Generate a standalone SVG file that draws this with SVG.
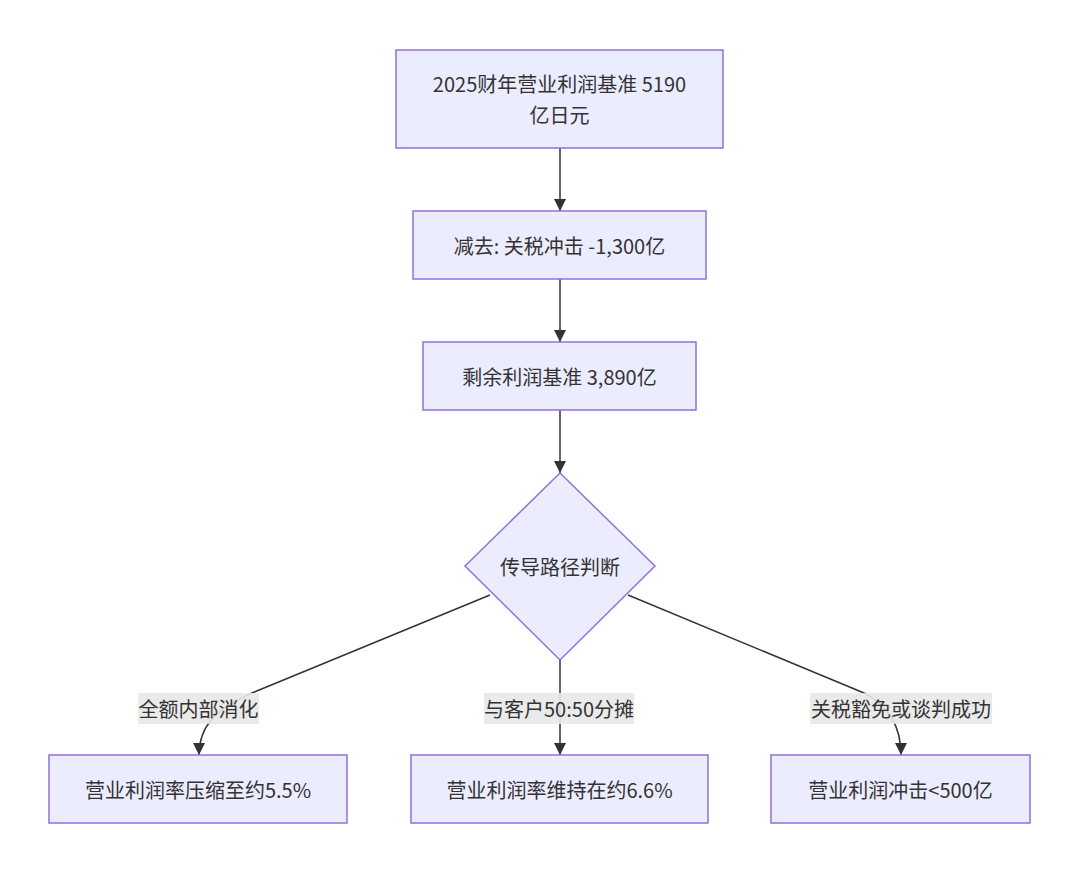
<svg xmlns="http://www.w3.org/2000/svg" width="1080" height="873" viewBox="0 0 1080 873">
<style>
.node rect,.node polygon{fill:#ECECFF;stroke:#9370DB;stroke-width:1.5}
text{font-family:"Noto Sans CJK SC","Noto Sans",sans-serif;font-size:20px;fill:#333333;text-anchor:middle;dominant-baseline:central}
.edge{fill:none;stroke:#333333;stroke-width:1.5;marker-end:url(#arrow)}
.lbl rect{fill:#E8E8E8;fill-opacity:0.9}
</style>
<defs>
<marker id="arrow" viewBox="0 0 10 10" refX="10" refY="5" markerUnits="userSpaceOnUse" markerWidth="12" markerHeight="12" orient="auto">
<path d="M0,0 L10,5 L0,10 z" fill="#333333"/>
</marker>
</defs>
<rect width="1080" height="873" fill="#ffffff"/>
<g id="edges">
<path class="edge" d="M560,148 L560,211"/>
<path class="edge" d="M560,279 L560,342"/>
<path class="edge" d="M560,410 L560,473"/>
<path class="edge" d="M490,595 L252,693 C215,709 199,727 199,755"/>
<path class="edge" d="M560,660 L560,755"/>
<path class="edge" d="M628,595 L864,693 C889,706 901,727 901,755"/>
</g>
<g id="edge-labels">
<g class="lbl"><rect x="138" y="693" width="121" height="31"/><text x="198.5" y="708">全额内部消化</text></g>
<g class="lbl"><rect x="484" y="693" width="150" height="31"/><text x="559" y="708">与客户50:50分摊</text></g>
<g class="lbl"><rect x="810" y="693" width="182" height="31"/><text x="901" y="708">关税豁免或谈判成功</text></g>
</g>
<g id="n1" class="node"><rect x="396" y="50" width="327" height="98"/><text x="559.5" y="83">2025财年营业利润基准 5190</text><text x="559.5" y="114">亿日元</text></g>
<g id="n2" class="node"><rect x="413" y="211" width="293" height="68"/><text x="559.5" y="245">减去: 关税冲击 -1,300亿</text></g>
<g id="n3" class="node"><rect x="423" y="342" width="273" height="68"/><text x="559.5" y="376">剩余利润基准 3,890亿</text></g>
<g id="n4" class="node"><polygon points="560,473 655,566 560,660 465,566"/><text x="560" y="566">传导路径判断</text></g>
<g id="n5" class="node"><rect x="49" y="755" width="298" height="68"/><text x="198" y="789">营业利润率压缩至约5.5%</text></g>
<g id="n6" class="node"><rect x="411" y="755" width="297" height="68"/><text x="559.5" y="789">营业利润率维持在约6.6%</text></g>
<g id="n7" class="node"><rect x="771" y="755" width="259" height="68"/><text x="900.5" y="789">营业利润冲击&lt;500亿</text></g>
</svg>
